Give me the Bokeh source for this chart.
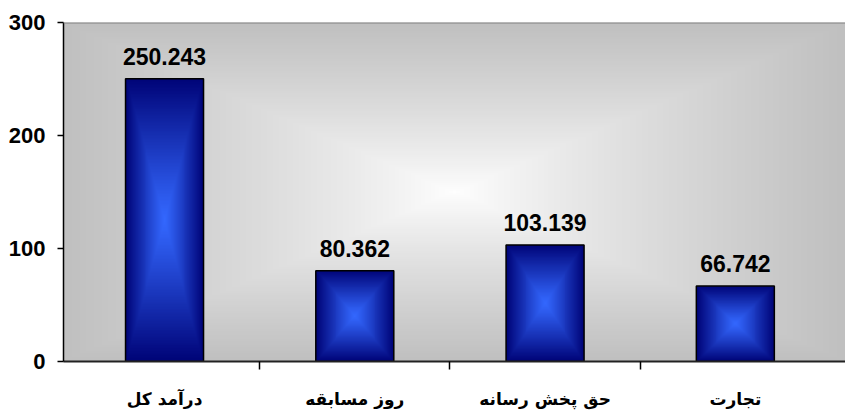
import numpy as np
from bokeh.plotting import figure
from bokeh.models import FixedTicker, Span, Range1d, ColumnDataSource
from bokeh.embed import file_html
from bokeh.resources import INLINE

# ---- data ----
categories = ["درآمد کل", "روز مسابقه", "حق پخش رسانه", "تجارت"]
values = [250.243, 80.362, 103.139, 66.742]
value_labels = ["250.243", "80.362", "103.139", "66.742"]
y_ticks = [0, 100, 200, 300]

xs = list(range(len(categories)))
X0, X1 = -0.531, 3.579
Y0, Y1 = 0, 300
BAR_W = 0.41

p = figure(width=845, height=412, output_backend="svg", toolbar_location=None,
           x_range=Range1d(X0, X1), y_range=Range1d(Y0, Y1),
           min_border_left=63, min_border_right=0, min_border_top=22, min_border_bottom=51)
p.background_fill_color = "white"
p.border_fill_color = "white"
p.outline_line_color = None
p.xgrid.visible = False
p.ygrid.visible = False


def pack(r, g, b):
    ny, nx = r.shape
    img = np.empty((ny, nx), dtype=np.uint32)
    view = img.view(dtype=np.uint8).reshape((ny, nx, 4))
    view[..., 0] = np.clip(r, 0, 255).astype(np.uint8)
    view[..., 1] = np.clip(g, 0, 255).astype(np.uint8)
    view[..., 2] = np.clip(b, 0, 255).astype(np.uint8)
    view[..., 3] = 255
    return img


# background: rectangular gradient from the centre
ny, nx = 170, 390
u = np.linspace(-1, 1, nx)[None, :]
v = np.linspace(-1, 1, ny)[:, None]
t = np.maximum(np.abs(u), np.abs(v)) ** 0.85
g = 255 - 63 * t
bg = pack(g, g, g)
p.image_rgba(image=[bg], x=X0, y=Y0, dw=X1 - X0, dh=Y1 - Y0)

# bar gradient image (pyramid, light centre, navy edges)
by, bx = 200, 80
u = np.linspace(-1, 1, bx)[None, :]
v = np.linspace(-1, 1, by)[:, None]
t = np.maximum(np.abs(u), np.abs(v)) ** 1.1
c0 = np.array([52, 104, 255])
c1 = np.array([0, 4, 120])
bar_img = pack(c0[0] * (1 - t) + c1[0] * t, c0[1] * (1 - t) + c1[1] * t, c0[2] * (1 - t) + c1[2] * t)

src = ColumnDataSource(dict(
    x=xs, top=values, lab=value_labels,
    left=[x - BAR_W / 2 for x in xs],
    img=[bar_img] * len(xs),
    zero=[0] * len(xs),
    w=[BAR_W] * len(xs),
))
p.image_rgba(image="img", x="left", y="zero", dw="w", dh="top", source=src)
p.vbar(x="x", top="top", width=BAR_W, source=src, fill_alpha=0,
       line_color="black", line_width=1.5)

p.text(x="x", y="top", text="lab", source=src, text_align="center",
       text_baseline="bottom", y_offset=-14, text_font_size="23px",
       text_font_style="bold", text_color="black",
       text_font={"value": "Liberation Sans"})

p.add_layout(Span(location=Y1, dimension="width", line_color="#808080", line_width=2))

# y axis
p.yaxis.ticker = FixedTicker(ticks=y_ticks)
p.yaxis.major_tick_out = 6
p.yaxis.major_tick_in = 0
p.yaxis.minor_tick_line_color = None
p.yaxis.axis_line_color = "black"
p.yaxis.axis_line_width = 1.5
p.yaxis.major_tick_line_color = "black"
p.yaxis.major_tick_line_width = 1.5
p.yaxis.major_label_text_font = "Liberation Sans"
p.yaxis.major_label_text_font_style = "bold"
p.yaxis.major_label_text_font_size = "22px"
p.yaxis.major_label_text_color = "black"
p.yaxis.major_label_standoff = 12

# x axis
p.xaxis.ticker = FixedTicker(ticks=xs, minor_ticks=[x + 0.5 for x in xs[:-1]])
p.xaxis.major_label_overrides = {x: c for x, c in zip(xs, categories)}
p.xaxis.major_tick_line_color = None
p.xaxis.major_tick_out = 0
p.xaxis.major_tick_in = 0
p.xaxis.minor_tick_out = 8
p.xaxis.minor_tick_in = 0
p.xaxis.minor_tick_line_color = "black"
p.xaxis.minor_tick_line_width = 1.5
p.xaxis.axis_line_color = "#222222"
p.xaxis.axis_line_width = 2
p.xaxis.major_label_text_font = "DejaVu Sans"
p.xaxis.major_label_text_font_style = "bold"
p.xaxis.major_label_text_font_size = "17px"
p.xaxis.major_label_text_color = "black"
p.xaxis.major_label_standoff = 19

open("out.html", "w").write(file_html(p, INLINE))
